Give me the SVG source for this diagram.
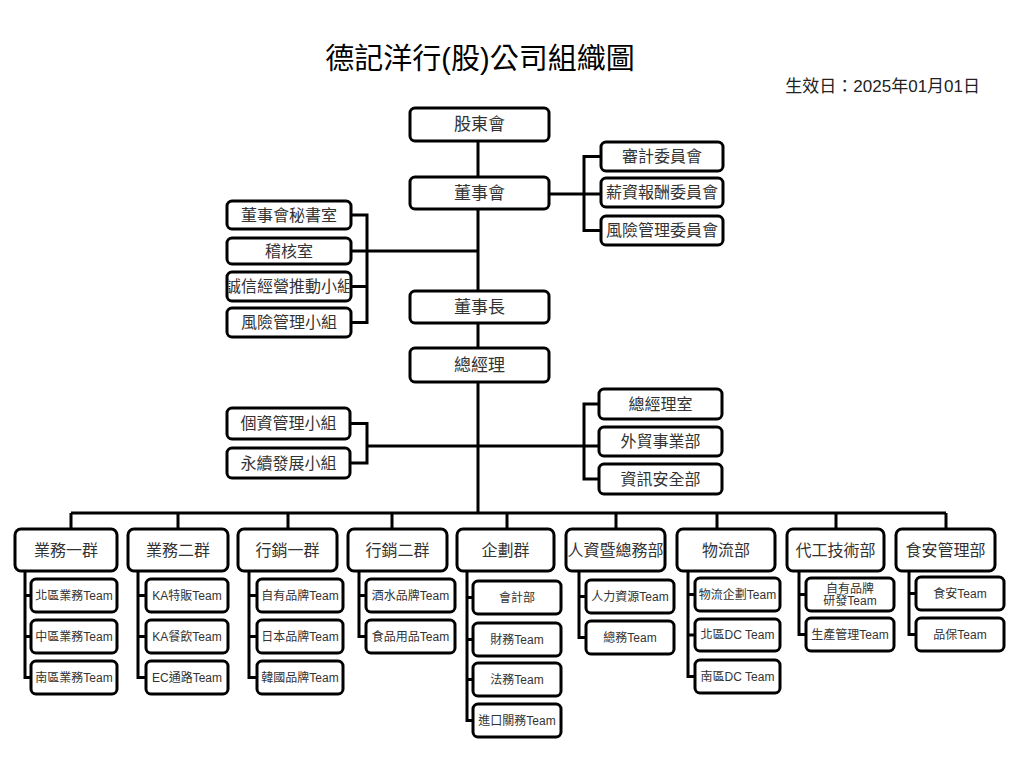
<svg xmlns="http://www.w3.org/2000/svg" width="1024" height="762" viewBox="0 0 1024 762">
<style>
text{font-family:"Liberation Sans","Noto Sans CJK TC",sans-serif;fill:#333;text-anchor:middle;dominant-baseline:central}
.b{fill:#fff;stroke:#000;stroke-width:3}
.ln{fill:none;stroke:#000;stroke-width:3}
.t1{font-size:17px}
.t2{font-size:16px}
.t3{font-size:12px}
.title{font-size:29px;fill:#000;dominant-baseline:auto}
.date{font-size:17px;fill:#222;text-anchor:end;dominant-baseline:auto}
</style>
<defs>
<clipPath id="cpIntegrity"><rect x="228.5" y="273.5" width="121" height="26"/></clipPath>
</defs>
<rect width="1024" height="762" fill="#fff"/>
<text class="title" x="480" y="69">德記洋行(股)公司組織圖</text>
<text class="date" x="980" y="92">生效日：2025年01月01日</text>

<g id="connectors">
<path class="ln" d="M478,141 V513"/>
<path class="ln" d="M549,194 H601 M601,156.5 H584 V230.5 H601"/>
<path class="ln" d="M351,215 H367 V322.5 H351 M351,251 H478 M351,286.5 H367"/>
<path class="ln" d="M350,423.5 H367 V463 H350 M367,446 H599 M599,404 H584 V479 H599"/>
<path class="ln" d="M71,513 H946 M71,513 V529 M178,513 V529 M288,513 V529 M392,513 V529 M507,513 V529 M616,513 V529 M717,513 V529 M836,513 V529 M946,513 V529"/>
<path class="ln" d="M25,571 V677.5 H31 M25,595.5 H31 M25,636.5 H31"/>
<path class="ln" d="M138,571 V677.5 H146 M138,595.5 H146 M138,636.5 H146"/>
<path class="ln" d="M249,571 V677.5 H257 M249,595.5 H257 M249,636.5 H257"/>
<path class="ln" d="M359,571 V636.5 H366 M359,595.5 H366"/>
<path class="ln" d="M467,571 V720.5 H473 M467,597.5 H473 M467,639.5 H473 M467,679.5 H473"/>
<path class="ln" d="M579,571 V637.5 H586 M579,596.5 H586"/>
<path class="ln" d="M688,571 V676.5 H695 M688,594.5 H695 M688,635 H695"/>
<path class="ln" d="M799,571 V634.5 H806 M799,594.5 H806"/>
<path class="ln" d="M909,571 V634.5 H916 M909,593.5 H916"/>
</g>

<g id="shareholders"><rect class="b" x="410" y="108" width="139" height="33" rx="5"/><text class="t1" x="479.5" y="124.5">股東會</text></g>
<g id="board"><rect class="b" x="410" y="177" width="139" height="32" rx="5"/><text class="t1" x="479.5" y="193">董事會</text></g>
<g id="chairman"><rect class="b" x="410" y="291" width="139" height="32" rx="5"/><text class="t1" x="479.5" y="307">董事長</text></g>
<g id="gm"><rect class="b" x="410" y="348" width="139" height="34" rx="5"/><text class="t1" x="479.5" y="365">總經理</text></g>

<g id="audit"><rect class="b" x="601" y="142" width="122" height="29" rx="5"/><text class="t2" x="662" y="156.5">審計委員會</text></g>
<g id="comp"><rect class="b" x="601" y="178" width="122" height="29" rx="5"/><text class="t2" x="662" y="192.5">薪資報酬委員會</text></g>
<g id="riskcomm"><rect class="b" x="601" y="216" width="122" height="29" rx="5"/><text class="t2" x="662" y="230.5">風險管理委員會</text></g>

<g id="secretary"><rect class="b" x="227" y="201" width="124" height="28" rx="5"/><text class="t2" x="289" y="215">董事會秘書室</text></g>
<g id="internalaudit"><rect class="b" x="227" y="238" width="124" height="26" rx="5"/><text class="t2" x="289" y="251">稽核室</text></g>
<g id="integrity"><rect class="b" x="227" y="272" width="124" height="29" rx="5"/><text class="t2" x="289" y="286.5" clip-path="url(#cpIntegrity)">誠信經營推動小組</text></g>
<g id="riskgroup"><rect class="b" x="227" y="308" width="124" height="29" rx="5"/><text class="t2" x="289" y="322.5">風險管理小組</text></g>

<g id="privacy"><rect class="b" x="227" y="408" width="123" height="31" rx="5"/><text class="t2" x="288.5" y="423.5">個資管理小組</text></g>
<g id="esg"><rect class="b" x="227" y="448" width="123" height="30" rx="5"/><text class="t2" x="288.5" y="463">永續發展小組</text></g>

<g id="gmoffice"><rect class="b" x="599" y="389" width="123" height="30" rx="5"/><text class="t2" x="660.5" y="404">總經理室</text></g>
<g id="trade"><rect class="b" x="599" y="427" width="123" height="29" rx="5"/><text class="t2" x="660.5" y="441.5">外貿事業部</text></g>
<g id="infosec"><rect class="b" x="599" y="464" width="123" height="30" rx="5"/><text class="t2" x="660.5" y="479">資訊安全部</text></g>

<g id="sales1"><rect class="b" x="15" y="529" width="102" height="42" rx="6"/><text class="t2" x="66" y="550">業務一群</text></g>
<g id="sales2"><rect class="b" x="128" y="529" width="100" height="42" rx="6"/><text class="t2" x="178" y="550">業務二群</text></g>
<g id="mkt1"><rect class="b" x="238" y="529" width="99" height="42" rx="6"/><text class="t2" x="287.5" y="550">行銷一群</text></g>
<g id="mkt2"><rect class="b" x="348" y="529" width="99" height="42" rx="6"/><text class="t2" x="397.5" y="550">行銷二群</text></g>
<g id="planning"><rect class="b" x="457" y="529" width="97" height="42" rx="6"/><text class="t2" x="505.5" y="550">企劃群</text></g>
<g id="hr"><rect class="b" x="566" y="529" width="99" height="42" rx="6"/><text class="t2" x="615.5" y="550">人資暨總務部</text></g>
<g id="logistics"><rect class="b" x="677" y="529" width="98" height="42" rx="6"/><text class="t2" x="726" y="550">物流部</text></g>
<g id="oem"><rect class="b" x="787" y="529" width="97" height="42" rx="6"/><text class="t2" x="835.5" y="550">代工技術部</text></g>
<g id="foodsafety"><rect class="b" x="896" y="529" width="99" height="42" rx="6"/><text class="t2" x="945.5" y="550">食安管理部</text></g>

<g id="s1a"><rect class="b" x="31" y="579" width="86" height="33" rx="5"/><text class="t3" x="74" y="595.5">北區業務Team</text></g>
<g id="s1b"><rect class="b" x="31" y="620" width="86" height="33" rx="5"/><text class="t3" x="74" y="636.5">中區業務Team</text></g>
<g id="s1c"><rect class="b" x="31" y="661" width="86" height="33" rx="5"/><text class="t3" x="74" y="677.5">南區業務Team</text></g>

<g id="s2a"><rect class="b" x="146" y="579" width="82" height="33" rx="5"/><text class="t3" x="187" y="595.5">KA特販Team</text></g>
<g id="s2b"><rect class="b" x="146" y="620" width="82" height="33" rx="5"/><text class="t3" x="187" y="636.5">KA餐飲Team</text></g>
<g id="s2c"><rect class="b" x="146" y="661" width="82" height="33" rx="5"/><text class="t3" x="187" y="677.5">EC通路Team</text></g>

<g id="m1a"><rect class="b" x="257" y="579" width="86" height="33" rx="5"/><text class="t3" x="300" y="595.5">自有品牌Team</text></g>
<g id="m1b"><rect class="b" x="257" y="620" width="86" height="33" rx="5"/><text class="t3" x="300" y="636.5">日本品牌Team</text></g>
<g id="m1c"><rect class="b" x="257" y="661" width="86" height="33" rx="5"/><text class="t3" x="300" y="677.5">韓國品牌Team</text></g>

<g id="m2a"><rect class="b" x="366" y="579" width="89" height="33" rx="5"/><text class="t3" x="410.5" y="595.5">酒水品牌Team</text></g>
<g id="m2b"><rect class="b" x="366" y="620" width="89" height="33" rx="5"/><text class="t3" x="410.5" y="636.5">食品用品Team</text></g>

<g id="p1"><rect class="b" x="473" y="581" width="88" height="33" rx="5"/><text class="t3" x="517" y="597.5">會計部</text></g>
<g id="p2"><rect class="b" x="473" y="623" width="88" height="33" rx="5"/><text class="t3" x="517" y="639.5">財務Team</text></g>
<g id="p3"><rect class="b" x="473" y="663" width="88" height="33" rx="5"/><text class="t3" x="517" y="679.5">法務Team</text></g>
<g id="p4"><rect class="b" x="473" y="704" width="88" height="33" rx="5"/><text class="t3" x="517" y="720.5">進口關務Team</text></g>

<g id="h1"><rect class="b" x="586" y="580" width="88" height="33" rx="5"/><text class="t3" x="630" y="596.5">人力資源Team</text></g>
<g id="h2"><rect class="b" x="586" y="621" width="88" height="33" rx="5"/><text class="t3" x="630" y="637.5">總務Team</text></g>

<g id="l1"><rect class="b" x="695" y="578" width="85" height="33" rx="5"/><text class="t3" x="737.5" y="594.5">物流企劃Team</text></g>
<g id="l2"><rect class="b" x="695" y="619" width="85" height="32" rx="5"/><text class="t3" x="737.5" y="635">北區DC Team</text></g>
<g id="l3"><rect class="b" x="695" y="660" width="85" height="33" rx="5"/><text class="t3" x="737.5" y="676.5">南區DC Team</text></g>

<g id="o1"><rect class="b" x="806" y="578" width="88" height="33" rx="5"/><text class="t3" x="850" y="588.5">自有品牌</text><text class="t3" x="850" y="601">研發Team</text></g>
<g id="o2"><rect class="b" x="806" y="618" width="88" height="33" rx="5"/><text class="t3" x="850" y="634.5">生產管理Team</text></g>

<g id="f1"><rect class="b" x="916" y="577" width="88" height="33" rx="5"/><text class="t3" x="960" y="593.5">食安Team</text></g>
<g id="f2"><rect class="b" x="916" y="618" width="88" height="33" rx="5"/><text class="t3" x="960" y="634.5">品保Team</text></g>
</svg>
